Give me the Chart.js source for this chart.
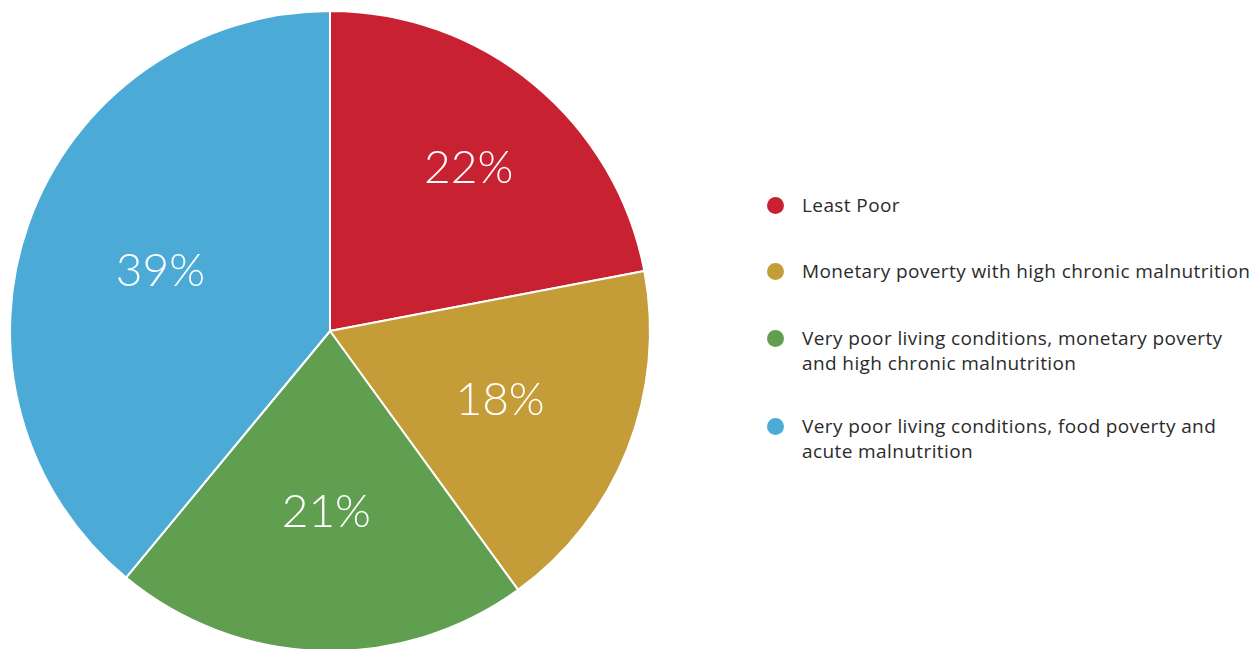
<!DOCTYPE html>
<html>
<head>
<meta charset="utf-8">
<script src="https://cdn.jsdelivr.net/npm/chart.js@4.4.1/dist/chart.umd.min.js"></script>
<style>
  html, body { margin: 0; padding: 0; width: 1258px; height: 649px; overflow: hidden; background: #fff; }
  #wrap { position: absolute; left: 0; top: 1px; width: 660px; height: 660px; }
  #legend { position: absolute; left: 767px; top: 0; font-family: "Open Sans", "Lato", sans-serif; font-size: 19px; letter-spacing: 0.4px; color: #2b2b2b; }
  .item { position: absolute; left: 0; display: flex; align-items: flex-start; width: 500px; }
  .dot { width: 17px; height: 17px; border-radius: 50%; flex: none; margin-top: 4px; }
  .txt { margin-left: 18px; line-height: 25px; white-space: nowrap; }
</style>
</head>
<body>
<div id="wrap"><canvas id="c"></canvas></div>
<div id="legend"></div>
<script>
const categories = [
  "Least Poor",
  "Monetary poverty with high chronic malnutrition",
  "Very poor living conditions, monetary poverty\nand high chronic malnutrition",
  "Very poor living conditions, food poverty and\nacute malnutrition"
];
const values = [22, 18, 21, 39];
const colors = ["#C82232", "#C49D38", "#609E50", "#4BABD6"];
const labelRadius = [0.67, 0.565, 0.56, 0.57];
const legendTops = [193, 259, 326, 414];

const pctLabels = {
  id: 'pctLabels',
  afterDatasetsDraw(chart) {
    const ctx = chart.ctx;
    const meta = chart.getDatasetMeta(0);
    const total = values.reduce((a, b) => a + b, 0);
    ctx.save();
    ctx.fillStyle = '#ffffff';
    ctx.font = '300 46px "Lato", "Open Sans", sans-serif';
    ctx.textAlign = 'center';
    ctx.textBaseline = 'alphabetic';
    meta.data.forEach((arc, i) => {
      const p = arc.getProps(['x', 'y', 'startAngle', 'endAngle', 'outerRadius'], true);
      const mid = (p.startAngle + p.endAngle) / 2;
      const r = p.outerRadius * labelRadius[i];
      ctx.fillText(Math.round(values[i] / total * 100) + '%', p.x + Math.cos(mid) * r + 2, p.y + Math.sin(mid) * r + 17);
    });
    ctx.restore();
  }
};

new Chart(document.getElementById('c'), {
  type: 'pie',
  data: {
    labels: categories,
    datasets: [{
      data: values,
      backgroundColor: colors,
      borderColor: '#ffffff',
      borderWidth: 2,
      hoverOffset: 0
    }]
  },
  options: {
    responsive: true,
    maintainAspectRatio: false,
    animation: false,
    layout: { padding: 9 },
    plugins: { legend: { display: false }, tooltip: { enabled: false } }
  },
  plugins: [pctLabels]
});

const legend = document.getElementById('legend');
categories.forEach((name, i) => {
  const item = document.createElement('div');
  item.className = 'item';
  item.style.top = legendTops[i] + 'px';
  const dot = document.createElement('div');
  dot.className = 'dot';
  dot.style.background = colors[i];
  const txt = document.createElement('div');
  txt.className = 'txt';
  name.split('\n').forEach((line, j) => {
    if (j) txt.appendChild(document.createElement('br'));
    txt.appendChild(document.createTextNode(line));
  });
  item.appendChild(dot);
  item.appendChild(txt);
  legend.appendChild(item);
});
</script>
</body>
</html>
